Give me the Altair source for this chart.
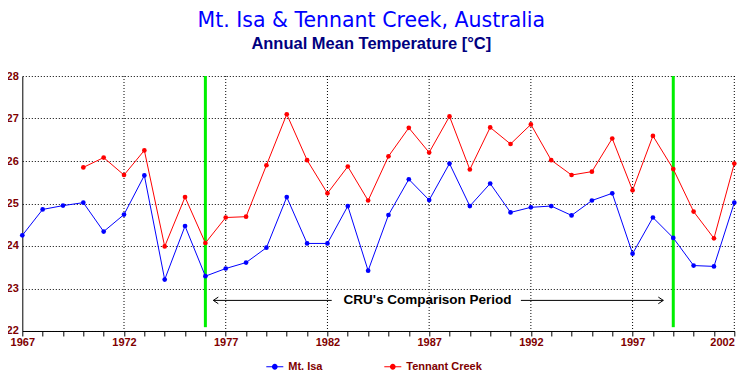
import altair as alt
import pandas as pd

years = list(range(1967, 2003))
mt_isa = [24.25, 24.86, 24.95, 25.02, 24.34, 24.74, 25.66, 23.21, 24.47, 23.29, 23.47, 23.61,
          23.96, 25.15, 24.06, 24.06, 24.94, 23.42, 24.73, 25.57, 25.08, 25.94, 24.94, 25.47,
          24.79, 24.91, 24.94, 24.72, 25.07, 25.24, 23.82, 24.67, 24.19, 23.54, 23.52, 25.02]
tennant = [None, None, None, 25.85, 26.08, 25.67, 26.25, 23.99, 25.15, 24.07, 24.67, 24.69,
           25.90, 27.10, 26.02, 25.24, 25.87, 25.07, 26.11, 26.78, 26.20, 27.05, 25.80, 26.79,
           26.40, 26.86, 26.02, 25.67, 25.75, 26.53, 25.31, 26.59, 25.81, 24.81, 24.18, 25.94]
series_names = ["Mt. Isa", "Tennant Creek"]
series_colors = ["#0000FF", "#FF0000"]
y_ticks = [22, 23, 24, 25, 26, 27, 28]
grid_years = [1972, 1977, 1982, 1987, 1992, 1997, 2002]
cru_years = [1976, 1999]
cru_top, cru_bottom = 28.0, 22.09
arrow_y = 22.72
arrow_left = [1976.39, 1982.21]
arrow_right = [1991.51, 1998.51]
label_year = 1986.92
label_text = "CRU's Comparison Period"

rows = []
for name, vals in zip(series_names, [mt_isa, tennant]):
    for yr, v in zip(years, vals):
        if v is not None:
            rows.append({"year": yr, "temp": v, "series": name})
df = pd.DataFrame(rows)

x_scale = alt.Scale(domain=[1967, 2002], nice=False, zero=False)
y_scale = alt.Scale(domain=[22, 28], nice=False, zero=False)
color_scale = alt.Scale(domain=series_names, range=series_colors)

lab_font = "Liberation Sans"
x_axis = alt.Axis(values=years, format="d", title=None, grid=False,
                  labelExpr="(datum.value - 1967) % 5 == 0 ? datum.label : ''",
                  labelAlign={"condition": {"test": "datum.value >= 2002", "value": "right"}, "value": "center"},
                  tickSize=5, tickColor="black", domainColor="black",
                  labelColor="#800000", labelFont=lab_font, labelFontWeight="bold",
                  labelFontSize=11, labelFlush=False, labelOverlap=False, labelPadding=1)
y_axis = alt.Axis(values=y_ticks, title=None, grid=True, gridDash=[1, 2], gridColor="black",
                  gridOpacity=1, ticks=False, tickSize=0, domainColor="black",
                  labelColor="#800000", labelFont=lab_font, labelFontWeight="bold",
                  labelFontSize=11, labelPadding=4)

def X(f):
    return alt.X(f, scale=x_scale, axis=x_axis)

def Y(f):
    return alt.Y(f, scale=y_scale, axis=y_axis)

vgrid = alt.Chart(pd.DataFrame({"year": grid_years})).mark_rule(
    color="black", strokeDash=[1, 2], strokeWidth=1).encode(x=X("year:Q"))

green = alt.Chart(pd.DataFrame({"year": cru_years, "temp": [cru_top] * 2, "bot": [cru_bottom] * 2})).mark_rule(
    color="#00F000", strokeWidth=3).encode(x=X("year:Q"), y=Y("temp:Q"), y2="bot:Q")

# legend symbol: a line with a dot made of concentric stroked rings
sym_path = ("M-1,0L1,0"
            "M-0.06,0A0.06,0.06 0 1,0 0.06,0A0.06,0.06 0 1,0 -0.06,0"
            "M-0.14,0A0.14,0.14 0 1,0 0.14,0A0.14,0.14 0 1,0 -0.14,0"
            "M-0.22,0A0.22,0.22 0 1,0 0.22,0A0.22,0.22 0 1,0 -0.22,0"
            "M-0.27,0A0.27,0.27 0 1,0 0.27,0A0.27,0.27 0 1,0 -0.27,0")
lines = alt.Chart(df).mark_line(strokeWidth=1).encode(
    x=X("year:Q"), y=Y("temp:Q"),
    color=alt.Color("series:N", scale=color_scale, legend=alt.Legend(
        title=None, orient="none", legendX=243, legendY=281, direction="horizontal",
        symbolType=sym_path, symbolSize=289, symbolStrokeWidth=1.2, symbolOpacity=1,
        labelFont=lab_font, labelFontSize=11, labelFontWeight="bold", labelColor="#800000",
        labelOffset=4, columnPadding=58, padding=0)),
    detail="series:N")

points = alt.Chart(df).mark_circle(size=22, opacity=1).encode(
    x=X("year:Q"), y=Y("temp:Q"),
    fill=alt.Fill("series:N", scale=color_scale, legend=None))

arrows = pd.DataFrame({"year": [arrow_left[0], arrow_right[0]], "x2": [arrow_left[1], arrow_right[1]],
                       "temp": [arrow_y, arrow_y]})
arrow_lines = alt.Chart(arrows).mark_rule(color="black", strokeWidth=1).encode(
    x=X("year:Q"), x2="x2:Q", y=Y("temp:Q"))

head_path = "M1.5,-1L0,0L1.5,1"
left_head = alt.Chart(pd.DataFrame({"year": [arrow_left[0]], "temp": [arrow_y]})).mark_point(
    shape=head_path, filled=False, stroke="black", strokeWidth=1, size=44, opacity=1).encode(
    x=X("year:Q"), y=Y("temp:Q"))
right_head = alt.Chart(pd.DataFrame({"year": [arrow_right[1]], "temp": [arrow_y]})).mark_point(
    shape=head_path, filled=False, stroke="black", strokeWidth=1, size=44, opacity=1, angle=180).encode(
    x=X("year:Q"), y=Y("temp:Q"))

label = alt.Chart(pd.DataFrame({"year": [label_year], "temp": [arrow_y], "label": [label_text]})).mark_text(
    font=lab_font, fontSize=13.5, fontWeight="bold", color="black", align="center", baseline="middle").encode(
    x=X("year:Q"), y=Y("temp:Q"), text="label:N")

chart = alt.layer(vgrid, green, lines, points, arrow_lines, left_head, right_head, label).properties(
    width=712, height=255,
    autosize=alt.AutoSizeParams(type="none"),
    padding={"left": 14.3, "top": 68, "right": 4, "bottom": 41},
    title=alt.TitleParams(
        text="Mt. Isa & Tennant Creek, Australia",
        subtitle="Annual Mean Temperature [°C]",
        font="DejaVu Sans", fontSize=20.5, fontWeight="normal", color="#0000FF",
        subtitleFont=lab_font, subtitleFontSize=16.5, subtitleFontWeight="bold", subtitleColor="#000080",
        anchor="middle", frame="group", offset=17.1, subtitlePadding=4.8, dx=-7)
).configure_view(stroke=None)

chart.save("out.html", embed_options={"renderer": "svg", "actions": False})
